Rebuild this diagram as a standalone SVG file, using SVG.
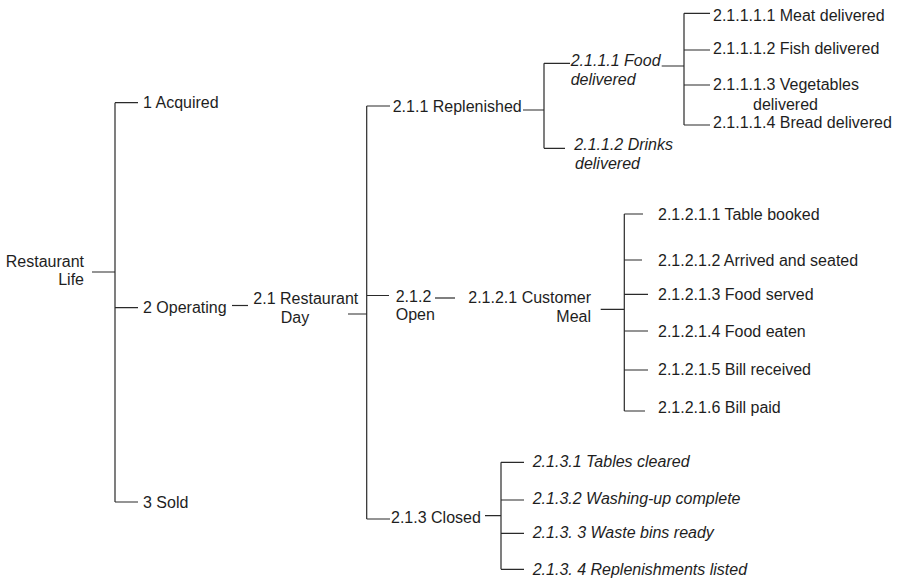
<svg xmlns="http://www.w3.org/2000/svg" width="898" height="580" viewBox="0 0 898 580">
<style>
text{font-family:"Liberation Sans",Arial,Helvetica,sans-serif;font-size:16px;fill:#1e1e1e}
.i{font-style:italic}
.e{text-anchor:end}
#connectors path{fill:none;stroke:#2a2a2a;stroke-width:1.2}
</style>
<rect width="898" height="580" fill="#ffffff"/>
<g id="connectors">
<path d="M92 272H115M115 102.7V502M115 102.7H138M115 307.7H138M115 502H138"/>
<path d="M232 305.5H248"/>
<path d="M348 314H366.7M366.7 106V519M366.7 106H390M366.7 295.5H389M366.7 519H390"/>
<path d="M523 110H544M544 63.3V148.3M544 63.3H570M544 148.3H565"/>
<path d="M661.7 66H684M684 13.3V125M684 13.3H710M684 50H710M684 85H710M684 125H710"/>
<path d="M435 298H455"/>
<path d="M600.7 309.3H624.3M624.3 214V411M624.3 214H643M624.3 260H642M624.3 294.3H648M624.3 331H648M624.3 370H648M624.3 411H645"/>
<path d="M485 515.7H501M501 462.3V569.3M501 462.3H524M501 500H524M501 533.3H524M501 569.3H524"/>
</g>
<g id="n-root"><text class="e" x="84" y="266.5">Restaurant</text><text class="e" x="84" y="284.5">Life</text></g>
<g id="n-1"><text x="143" y="108">1 Acquired</text></g>
<g id="n-2"><text x="143" y="313">2 Operating</text></g>
<g id="n-3"><text x="143" y="507.5">3 Sold</text></g>
<g id="n-2-1"><text x="253.3" y="304">2.1 Restaurant</text><text x="280.7" y="322.5">Day</text></g>
<g id="n-2-1-1"><text x="392.7" y="111.7">2.1.1 Replenished</text></g>
<g id="n-2-1-2"><text x="395.7" y="301.5">2.1.2</text><text x="395.7" y="320">Open</text></g>
<g id="n-2-1-3"><text x="391" y="523.3">2.1.3 Closed</text></g>
<g id="n-2-1-1-1"><text class="i" x="570.7" y="66">2.1.1.1 Food</text><text class="i" x="570.7" y="85">delivered</text></g>
<g id="n-2-1-1-2"><text class="i" x="574.3" y="150">2.1.1.2 Drinks</text><text class="i" x="575" y="169.3">delivered</text></g>
<g id="n-2-1-1-1-1"><text x="713" y="21">2.1.1.1.1 Meat delivered</text></g>
<g id="n-2-1-1-1-2"><text x="713" y="54">2.1.1.1.2 Fish delivered</text></g>
<g id="n-2-1-1-1-3"><text x="713" y="90">2.1.1.1.3 Vegetables</text><text x="753" y="110">delivered</text></g>
<g id="n-2-1-1-1-4"><text x="713" y="128">2.1.1.1.4 Bread delivered</text></g>
<g id="n-2-1-2-1"><text class="e" x="591" y="303.3">2.1.2.1 Customer</text><text class="e" x="591" y="322.3">Meal</text></g>
<g id="n-2-1-2-1-1"><text x="658" y="220">2.1.2.1.1 Table booked</text></g>
<g id="n-2-1-2-1-2"><text x="658" y="266">2.1.2.1.2 Arrived and seated</text></g>
<g id="n-2-1-2-1-3"><text x="658" y="300">2.1.2.1.3 Food served</text></g>
<g id="n-2-1-2-1-4"><text x="658" y="337">2.1.2.1.4 Food eaten</text></g>
<g id="n-2-1-2-1-5"><text x="658" y="375">2.1.2.1.5 Bill received</text></g>
<g id="n-2-1-2-1-6"><text x="658" y="413">2.1.2.1.6 Bill paid</text></g>
<g id="n-2-1-3-1"><text class="i" x="532.7" y="467">2.1.3.1 Tables cleared</text></g>
<g id="n-2-1-3-2"><text class="i" x="532.7" y="503.5">2.1.3.2 Washing-up complete</text></g>
<g id="n-2-1-3-3"><text class="i" x="532.7" y="538">2.1.3. 3 Waste bins ready</text></g>
<g id="n-2-1-3-4"><text class="i" x="532.7" y="575">2.1.3. 4 Replenishments listed</text></g>
</svg>
